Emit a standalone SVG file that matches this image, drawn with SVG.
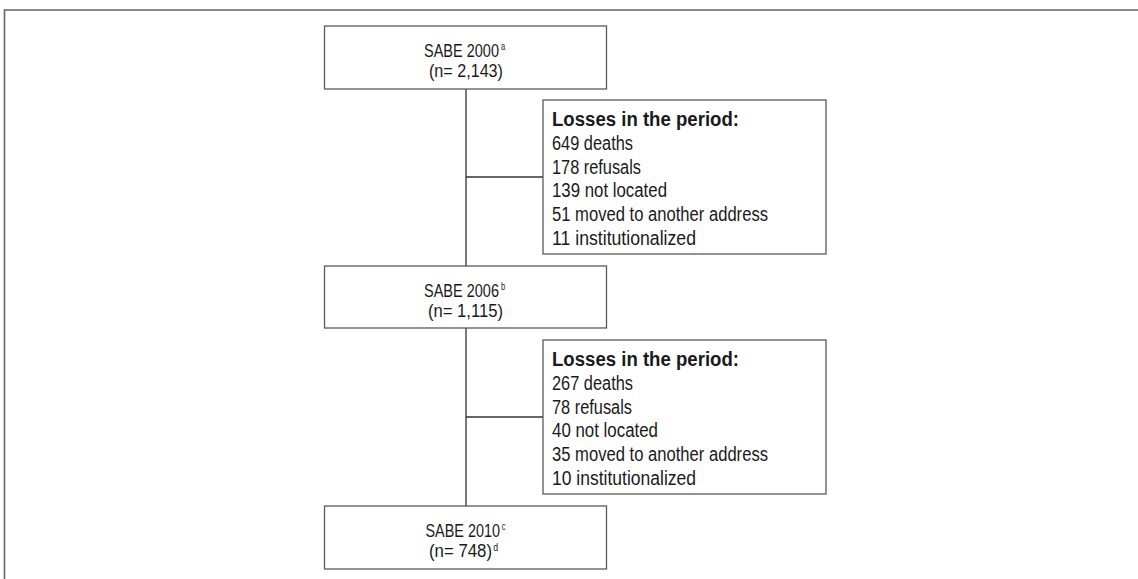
<svg xmlns="http://www.w3.org/2000/svg" width="1138" height="579" viewBox="0 0 1138 579">
<style>
.box{fill:#fff;stroke:#5a5a5a;stroke-width:1.3}
.frame{fill:none;stroke:#666;stroke-width:1.6}
.conn{stroke:#333;stroke-width:1.3;fill:none}
text{font-family:"Liberation Sans",Arial,sans-serif;fill:#1a1a1a}
.t{font-size:19px}
.l{font-size:19.5px}
.b{font-size:19.5px;font-weight:bold}
.sup{font-size:10px}
</style>
<rect width="1138" height="579" fill="#fff"/>
<path class="frame" d="M4.5 579 V10 H1138"/>
<g id="connectors">
<line class="conn" x1="466" y1="89" x2="466" y2="266"/>
<line class="conn" x1="466" y1="177" x2="543" y2="177"/>
<line class="conn" x1="466" y1="328" x2="466" y2="506"/>
<line class="conn" x1="466" y1="417" x2="543" y2="417"/>
</g>
<g id="sabe2000">
<rect class="box" x="324.5" y="26" width="282" height="63"/>
<g transform="translate(424,57) scale(0.76,1)"><text class="t" x="0" y="0"><tspan textLength="98.7" lengthAdjust="spacingAndGlyphs">SABE 2000</tspan><tspan class="sup" dx="2.5" dy="-7">a</tspan></text></g>
<g transform="translate(429,77) scale(0.85,1)"><text class="t" x="0" y="0" textLength="87" lengthAdjust="spacingAndGlyphs">(n= 2,143)</text></g>
</g>
<g id="losses1">
<rect class="box" x="543" y="100" width="283" height="154"/>
<text class="b" x="552" y="126" textLength="187" lengthAdjust="spacingAndGlyphs">Losses in the period:</text>
<text class="l" x="552" y="150" textLength="81" lengthAdjust="spacingAndGlyphs">649 deaths</text>
<text class="l" x="552" y="173.5" textLength="89" lengthAdjust="spacingAndGlyphs">178 refusals</text>
<text class="l" x="552" y="197" textLength="115" lengthAdjust="spacingAndGlyphs">139 not located</text>
<text class="l" x="552" y="221" textLength="216" lengthAdjust="spacingAndGlyphs">51 moved to another address</text>
<text class="l" x="552" y="245" textLength="144" lengthAdjust="spacingAndGlyphs">11 institutionalized</text>
</g>
<g id="sabe2006">
<rect class="box" x="324.5" y="266" width="282" height="62"/>
<g transform="translate(424,297) scale(0.76,1)"><text class="t" x="0" y="0"><tspan textLength="98.7" lengthAdjust="spacingAndGlyphs">SABE 2006</tspan><tspan class="sup" dx="2.5" dy="-7">b</tspan></text></g>
<g transform="translate(428,317) scale(0.85,1)"><text class="t" x="0" y="0" textLength="88.2" lengthAdjust="spacingAndGlyphs">(n= 1,115)</text></g>
</g>
<g id="losses2">
<rect class="box" x="543" y="340" width="283" height="154"/>
<text class="b" x="552" y="366" textLength="187" lengthAdjust="spacingAndGlyphs">Losses in the period:</text>
<text class="l" x="552" y="390" textLength="81" lengthAdjust="spacingAndGlyphs">267 deaths</text>
<text class="l" x="552" y="413.5" textLength="80" lengthAdjust="spacingAndGlyphs">78 refusals</text>
<text class="l" x="552" y="437" textLength="106" lengthAdjust="spacingAndGlyphs">40 not located</text>
<text class="l" x="552" y="461" textLength="216" lengthAdjust="spacingAndGlyphs">35 moved to another address</text>
<text class="l" x="552" y="485" textLength="144" lengthAdjust="spacingAndGlyphs">10 institutionalized</text>
</g>
<g id="sabe2010">
<rect class="box" x="324.5" y="506" width="282" height="63"/>
<g transform="translate(425.5,537) scale(0.76,1)"><text class="t" x="0" y="0"><tspan textLength="98" lengthAdjust="spacingAndGlyphs">SABE 2010</tspan><tspan class="sup" dx="2.5" dy="-7">c</tspan></text></g>
<g transform="translate(429,557) scale(0.88,1)"><text class="t" x="0" y="0"><tspan textLength="71.6" lengthAdjust="spacingAndGlyphs">(n= 748)</tspan><tspan class="sup" font-size="9.5" dx="1.5" dy="-6">d</tspan></text></g>
</g>
</svg>
